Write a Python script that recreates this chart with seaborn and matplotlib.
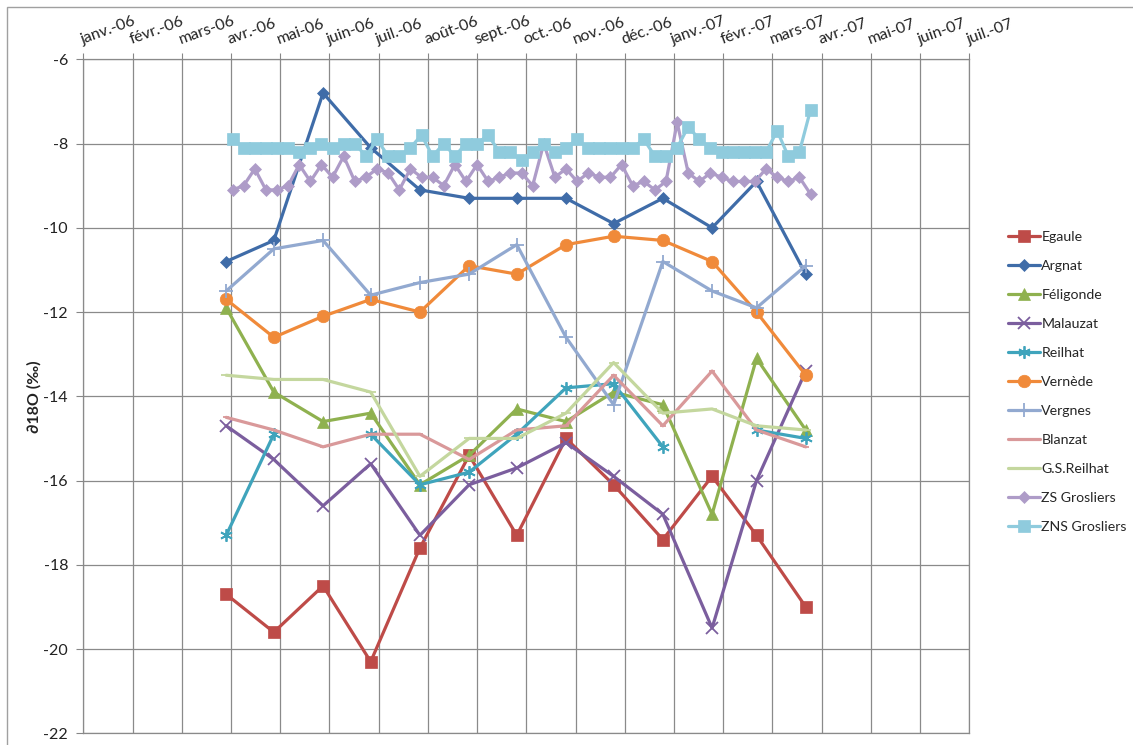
import pandas as pd
import matplotlib.pyplot as plt
from matplotlib.lines import Line2D
from matplotlib.patches import Rectangle
import seaborn as sns

# sampling dates
monthly_dates = pd.to_datetime([
    "2006-04-01", "2006-05-01", "2006-06-01", "2006-07-01", "2006-08-01",
    "2006-09-01", "2006-10-01", "2006-11-01", "2006-12-01", "2007-01-01",
    "2007-02-01", "2007-03-01", "2007-04-01",
])
weekly_dates = pd.to_datetime([
    "2006-04-05", "2006-04-12", "2006-04-19", "2006-04-26", "2006-05-03",
    "2006-05-10", "2006-05-17", "2006-05-24", "2006-05-31", "2006-06-07",
    "2006-06-14", "2006-06-21", "2006-06-28", "2006-07-05", "2006-07-12",
    "2006-07-19", "2006-07-26", "2006-08-02", "2006-08-09", "2006-08-16",
    "2006-08-23", "2006-08-30", "2006-09-06", "2006-09-13", "2006-09-20",
    "2006-09-27", "2006-10-04", "2006-10-11", "2006-10-18", "2006-10-25",
    "2006-11-01", "2006-11-08", "2006-11-15", "2006-11-22", "2006-11-29",
    "2006-12-06", "2006-12-13", "2006-12-20", "2006-12-27", "2007-01-03",
    "2007-01-10", "2007-01-17", "2007-01-24", "2007-01-31", "2007-02-07",
    "2007-02-14", "2007-02-21", "2007-02-28", "2007-03-07", "2007-03-14",
    "2007-03-21", "2007-03-28", "2007-04-04",
])

# d18O values (per mil)
egaule = [-18.7, -19.6, -18.5, -20.3, -17.6, -15.4, -17.3, -15.0, -16.1, -17.4, -15.9, -17.3, -19.0]
argnat = [-10.8, -10.3, -6.8, -8.1, -9.1, -9.3, -9.3, -9.3, -9.9, -9.3, -10.0, -8.9, -11.1]
feligonde = [-11.9, -13.9, -14.6, -14.4, -16.1, -15.4, -14.3, -14.6, -13.9, -14.2, -16.8, -13.1, -14.8]
malauzat = [-14.7, -15.5, -16.6, -15.6, -17.3, -16.1, -15.7, -15.1, -15.9, -16.8, -19.5, -16.0, -13.4]
reilhat = [-17.3, -14.9, None, -14.9, -16.1, -15.8, -14.9, -13.8, -13.7, -15.2, None, -14.8, -15.0]
vernede = [-11.7, -12.6, -12.1, -11.7, -12.0, -10.9, -11.1, -10.4, -10.2, -10.3, -10.8, -12.0, -13.5]
vergnes = [-11.5, -10.5, -10.3, -11.6, -11.3, -11.1, -10.4, -12.6, -14.2, -10.8, -11.5, -11.9, -10.9]
blanzat = [-14.5, -14.8, -15.2, -14.9, -14.9, -15.5, -14.8, -14.7, -13.5, -14.7, -13.4, -14.8, -15.2]
gs_reilhat = [-13.5, -13.6, -13.6, -13.9, -15.9, -15.0, -15.0, -14.4, -13.2, -14.4, -14.3, -14.7, -14.8]
zs_grosliers = [
    -9.1, -9.0, -8.6, -9.1, -9.1, -9.0, -8.5, -8.9, -8.5, -8.8,
    -8.3, -8.9, -8.8, -8.6, -8.7, -9.1, -8.6, -8.8, -8.8, -9.0,
    -8.5, -8.9, -8.5, -8.9, -8.8, -8.7, -8.7, -9.0, -8.0, -8.8,
    -8.6, -8.9, -8.7, -8.8, -8.8, -8.5, -9.0, -8.9, -9.1, -8.9,
    -7.5, -8.7, -8.9, -8.7, -8.8, -8.9, -8.9, -8.9, -8.6, -8.8,
    -8.9, -8.8, -9.2,
]
zns_grosliers = [
    -7.9, -8.1, -8.1, -8.1, -8.1, -8.1, -8.2, -8.1, -8.0, -8.1,
    -8.0, -8.0, -8.3, -7.9, -8.3, -8.3, -8.1, -7.8, -8.3, -8.0,
    -8.3, -8.0, -8.0, -7.8, -8.2, -8.2, -8.4, -8.2, -8.0, -8.2,
    -8.1, -7.9, -8.1, -8.1, -8.1, -8.1, -8.1, -7.9, -8.3, -8.3,
    -8.1, -7.6, -7.9, -8.1, -8.2, -8.2, -8.2, -8.2, -8.2, -7.7,
    -8.3, -8.2, -7.2,
]

month_labels = [
    "janv.-06", "févr.-06", "mars-06", "avr.-06", "mai-06", "juin-06",
    "juil.-06", "août-06", "sept.-06", "oct.-06", "nov.-06", "déc.-06",
    "janv.-07", "févr.-07", "mars-07", "avr.-07", "mai-07", "juin-07", "juil.-07",
]
y_ticks = [-22, -20, -18, -16, -14, -12, -10, -8, -6]

asterisk = (6, 2, 0)
series = [
    ("Egaule", monthly_dates, egaule, "#BE4B48", "s", 8.5),
    ("Argnat", monthly_dates, argnat, "#3F6CA8", "D", 6),
    ("Féligonde", monthly_dates, feligonde, "#8FB14F", "^", 8.5),
    ("Malauzat", monthly_dates, malauzat, "#7B5E9E", "x", 8),
    ("Reilhat", monthly_dates, reilhat, "#3FA4BC", asterisk, 9),
    ("Vernède", monthly_dates, vernede, "#F08A3A", "o", 9),
    ("Vergnes", monthly_dates, vergnes, "#92A9D0", "+", 10),
    ("Blanzat", monthly_dates, blanzat, "#D9999A", "_", 5),
    ("G.S.Reilhat", monthly_dates, gs_reilhat, "#C4D79E", "_", 7),
    ("ZS Grosliers", weekly_dates, zs_grosliers, "#AE9CC8", "D", 6.5),
    ("ZNS Grosliers", weekly_dates, zns_grosliers, "#8FCBDD", "s", 9),
]

sns.set_style("white")
plt.rcParams["font.family"] = ["Lato", "DejaVu Sans"]
plt.rcParams["axes.unicode_minus"] = False

fig = plt.figure(figsize=(11.33, 7.45), dpi=100)
ax = fig.add_axes([83.3 / 1133, 11.7 / 745, 886 / 1133, 674 / 745])

open_marks = {"x", "+", "_", asterisk}
handles = []
for name, dates, values, color, marker, size in series:
    df = pd.DataFrame({"date": dates, "value": pd.to_numeric(pd.Series(values), errors="coerce")})
    # missing samples break the line, as in the spreadsheet
    df["segment"] = df["value"].isna().cumsum()
    df = df.dropna()
    mew = 1.3 if marker in open_marks else 0.5
    sns.lineplot(data=df, x="date", y="value", units="segment", estimator=None,
                 ax=ax, color=color, lw=2.3, marker=marker, markersize=size,
                 markeredgecolor=color, markeredgewidth=mew, legend=False)
    handles.append(Line2D([0], [0], color=color, lw=2.3, marker=marker,
                          markersize=size, markeredgecolor=color,
                          markeredgewidth=mew, label=name))

start = pd.Timestamp("2006-01-01")
tick_dates = [start + pd.Timedelta(days=31 * i) for i in range(len(month_labels))]
ax.set_xlim(tick_dates[0], tick_dates[-1])
ax.set_ylim(-22, -6)
ax.set_yticks(y_ticks)
ax.set_yticklabels([str(v) for v in y_ticks], fontsize=11.5, color="#222222")
ax.xaxis.tick_top()
ax.set_xticks(tick_dates)
ax.set_xticklabels(month_labels, fontsize=11.5, color="#222222", rotation=20,
                   ha="left", va="bottom", rotation_mode="anchor")
ax.tick_params(axis="x", length=4, pad=5, color="#868686")
ax.tick_params(axis="y", length=5, pad=6, color="#868686", left=True)
ax.set_xlabel("")
ax.set_ylabel("∂18O (‰)", fontsize=11.5, fontweight="bold", color="#222222")
ax.yaxis.set_label_coords(-0.047, 0.5)

ax.grid(True, color="#8a8a8a", lw=0.9)
ax.set_axisbelow(True)
for sp in ax.spines.values():
    sp.set_color("#8a8a8a")
    sp.set_linewidth(0.9)

fig.legend(handles=handles, loc="upper left", bbox_to_anchor=(1008 / 1133, 1 - 231 / 745),
           frameon=False, fontsize=10.2, handlelength=2.25, handletextpad=0.1,
           labelspacing=1.2, borderpad=0, borderaxespad=0)

fig.patches.append(Rectangle((7 / 1133, -0.05), 2, 1.05 - 7 / 745, transform=fig.transFigure,
                             fill=False, ec="#a0a0a0", lw=1))

fig.savefig("out.png", dpi=100)
